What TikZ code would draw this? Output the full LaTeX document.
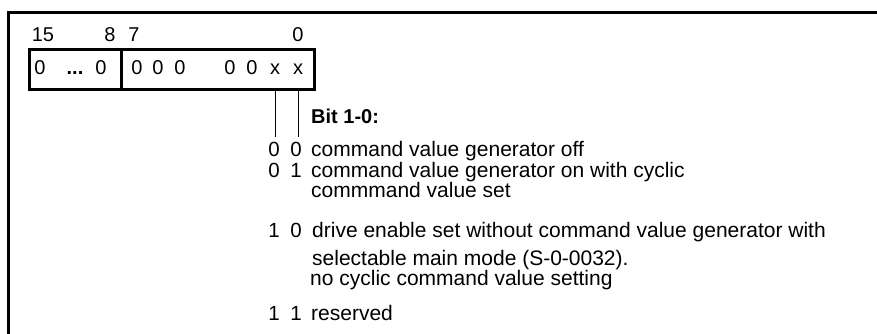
\documentclass[tikz,border=0pt]{standalone}
\usepackage{fontspec}
\setmainfont{Liberation Sans}
\begin{document}
\begin{tikzpicture}[x=1pt,y=-1pt,
  frameline/.style={line width=3pt},
  regbox/.style={line width=3pt},
  bitline/.style={line width=1pt},
  hdr/.style={font=\fontsize{20}{24}\selectfont, anchor=base, inner sep=0pt},
  cell/.style={font=\fontsize{20}{24}\selectfont, anchor=base, inner sep=0pt},
  digit/.style={font=\fontsize{20.5}{24}\selectfont, anchor=base, inner sep=0pt},
  desc/.style={font=\fontsize{21}{25}\selectfont, anchor=base west, inner sep=0pt},
  title/.style={font=\fontsize{20}{24}\selectfont\bfseries, anchor=base west, inner sep=0pt}]
\useasboundingbox (0,0) rectangle (877,334);

% outer frame: left and top edges only
\coordinate (fbl) at (8,334);
\coordinate (ftl) at (8,13);
\coordinate (ftr) at (877,13);
\draw[frameline] (fbl) -- (ftl) -- (ftr);

% register box, bits 15..8 and 7..0
\node[draw, regbox, minimum width=92pt, minimum height=40pt, inner sep=0pt, anchor=north west] (hi) at (28,48) {};
\node[draw, regbox, minimum width=193pt, minimum height=40pt, inner sep=0pt, anchor=north west] (lo) at (120,48) {};

% bit numbers above the box
\node[hdr] (h15) at (43,42) {15};
\node[hdr] (h8) at (110,42) {8};
\node[hdr] (h7) at (134,42) {7};
\node[hdr] (h0) at (298,42) {0};

% cell contents
\node[cell] (c15) at (40,75) {0};
\node[cell] (cdots) at (75,75) {\textbf{...}};
\node[cell] (c8) at (101,75) {0};
\node[cell] (c7) at (137,75) {0};
\node[cell] (c6) at (158,75) {0};
\node[cell] (c5) at (180,75) {0};
\node[cell] (c3) at (230,75) {0};
\node[cell] (c2) at (252,75) {0};
\node[cell] (c1) at (275,75) {x};
\node[cell] (c0) at (298,75) {x};

% leader lines from bits 1 and 0
\coordinate (b1end) at (275,137);
\coordinate (b0end) at (298,137);
\draw[bitline] (c1 |- lo.south) -- (b1end);
\draw[bitline] (c0 |- lo.south) -- (b0end);

% legend
\node[title] (bt) at (311,124) {Bit 1-0:};

\node[digit] (r1a) at (274,156) {0};
\node[digit] (r1b) at (296,156) {0};
\node[desc] (r1t) at (311,156) {command value generator off};

\node[digit] (r2a) at (274,177) {0};
\node[digit] (r2b) at (296,177) {1};
\node[desc] (r2t) at (311,177) {command value generator on with cyclic};
\node[desc] (r2u) at (311,197) {commmand value set};

\node[digit] (r3a) at (274,237) {1};
\node[digit] (r3b) at (296,237) {0};
\node[desc] (r3t) at (312,237) {drive enable set without command value generator with};
\node[desc] (r3u) at (312,265) {selectable main mode (S-0-0032).};
\node[desc] (r3v) at (310,285) {no cyclic command value setting};

\node[digit] (r4a) at (274,320) {1};
\node[digit] (r4b) at (296,320) {1};
\node[desc] (r4t) at (311,320) {reserved};
\end{tikzpicture}
\end{document}
